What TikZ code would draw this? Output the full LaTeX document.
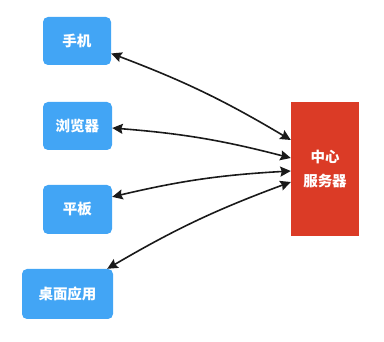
\documentclass[tikz,border=0pt]{standalone}
\usepackage{fontspec}
\usepackage{xcolor}
\usepackage{tikz}
\usetikzlibrary{arrows.meta,positioning}
\newfontfamily\cjk{Noto Sans CJK SC}
\definecolor{cblue}{HTML}{42A5F5}
\definecolor{cred}{HTML}{DB3B26}
\definecolor{cink}{HTML}{1A1A1A}
\tikzset{>={Stealth[length=10.5pt,width=10pt,inset=1.5pt]}}
\tikzset{
  client/.style={fill=cblue,rounded corners=5pt,minimum height=48pt,
    text=white,font=\cjk\bfseries\fontsize{14.5}{17}\selectfont},
  hub/.style={fill=cred,minimum width=68pt,minimum height=134pt,align=center,
    text=white,font=\cjk\bfseries\fontsize{14.5}{24}\selectfont},
  link/.style={<->,cink,line width=1.6pt,bend left=5}
}

\begin{document}
\begin{tikzpicture}[x=1pt,y=-1pt]
\useasboundingbox (0,0) rectangle (384,342);

% ============ clients ============
\node[client,minimum width=68pt] (phone) at (77,41) {手机};
\node[client,minimum width=69pt] (browser) at (77.5,126) {浏览器};
\node[client,minimum width=69pt,minimum height=49pt] (tablet) at (77.5,209.5) {平板};
\node[client,minimum width=91pt,minimum height=50pt] (desktop) at (67.5,294) {桌面应用};

% ============ server ============
\node[hub] (server) at (325,169) {中心\\服务器};

% ============ links ============
\draw[link] (phone.-20) to ([yshift=29pt]server.west);
\draw[link] ([yshift=-2pt]browser.east) to ([yshift=11pt]server.west);
\draw[link] (tablet.20) to ([yshift=-2pt]server.west);
\draw[link] ([xshift=-6pt]desktop.north east) to ([yshift=-13pt]server.west);

\end{tikzpicture}
\end{document}
